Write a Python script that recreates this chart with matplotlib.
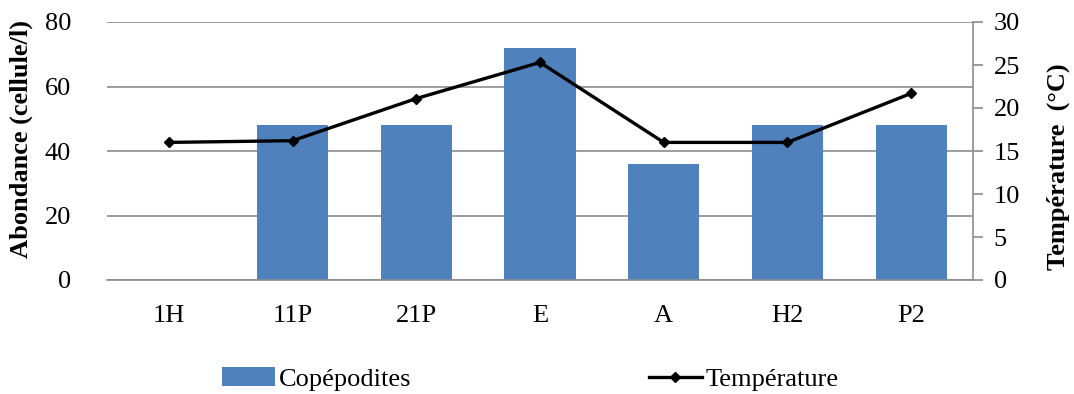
import matplotlib
matplotlib.use("Agg")
import matplotlib.pyplot as plt
import numpy as np

stations = ["1H", "11P", "21P", "E", "A", "H2", "P2"]
copepodites = [0, 48, 48, 72, 36, 48, 48]
temperature = [16.0, 16.2, 21.1, 25.3, 16.0, 16.0, 21.7]

plt.rcParams["font.family"] = ["Liberation Serif", "DejaVu Serif"]

fig = plt.figure(figsize=(10.74, 3.94), dpi=100)
ax = fig.add_axes([107 / 1074, 1 - 280 / 394, (973 - 107) / 1074, (280 - 22) / 394])
x = np.arange(len(stations))

grid_c = "#8c8c8c"
bars = ax.bar(x, copepodites, width=0.575, color="#4f81bd", zorder=2,
              label="Copépodites")
ax.set_xlim(-0.5, len(stations) - 0.5)
ax.set_ylim(0, 80)
ax.set_yticks([0, 20, 40, 60, 80])
ax.yaxis.grid(True, color=grid_c, linewidth=1.2, zorder=0)
ax.set_axisbelow(True)
for s in ["left", "top", "right"]:
    ax.spines[s].set_visible(False)
ax.spines["bottom"].set_color(grid_c)
ax.spines["bottom"].set_linewidth(1.2)
ax.tick_params(axis="y", length=0, labelsize=19, pad=26)
ax.tick_params(axis="x", length=0, labelsize=19, pad=18)
ax.set_xticks(x)
ax.set_xticklabels(stations)
ax.set_ylabel("Abondance (cellule/l)", fontsize=19, fontweight="bold")
ax.yaxis.set_label_coords(-74 / 866, 0.545)

ax2 = ax.twinx()
line, = ax2.plot(x, temperature, color="black", linewidth=2.4, marker="D",
                 markersize=5.5, zorder=3, label="Température")
ax2.set_ylim(0, 30)
ax2.set_yticks([0, 5, 10, 15, 20, 25, 30])
for s in ["left", "top", "bottom"]:
    ax2.spines[s].set_visible(False)
ax2.spines["right"].set_color(grid_c)
ax2.spines["right"].set_linewidth(1.2)
ax2.tick_params(axis="y", length=7, width=1.2, color=grid_c, direction="out",
                labelsize=19, pad=8)
ax2.set_ylabel("Température  (°C)", fontsize=19, fontweight="bold")
ax2.yaxis.set_label_coords(1 + 74 / 866, 0.44)

fig.legend(handles=[bars, line], labels=["Copépodites", "Température"],
           loc="center", bbox_to_anchor=(0.494, 1 - 379 / 394), ncol=2,
           frameon=False, fontsize=19, handlelength=2.0, handletextpad=0.15,
           columnspacing=9.0, borderaxespad=0)

fig.savefig("out.png", dpi=100)
